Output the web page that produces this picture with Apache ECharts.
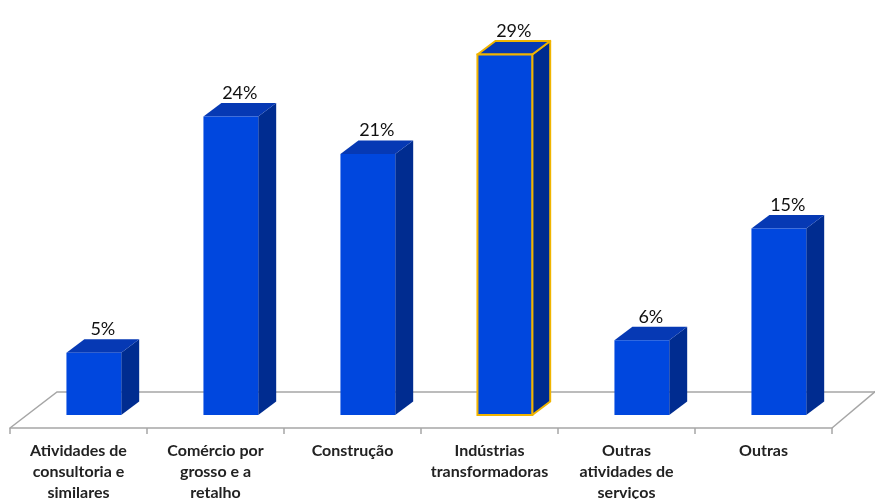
<!DOCTYPE html>
<html>
<head>
<meta charset="utf-8">
<script src="https://cdn.jsdelivr.net/npm/echarts@6/dist/echarts.min.js"></script>
<style>
  html, body { margin: 0; padding: 0; background: #ffffff; overflow: hidden; }
  #chart { width: 875px; height: 499px; }
</style>
</head>
<body>
<div id="chart"></div>
<script>
// Sectors and their share (%)
const categories = [
  'Atividades de consultoria e similares',
  'Comércio por grosso e a retalho',
  'Construção',
  'Indústrias transformadoras',
  'Outras atividades de serviços',
  'Outras'
];
const tickLabels = [
  'Atividades de\nconsultoria e\nsimilares',
  'Comércio por\ngrosso e a\nretalho',
  'Construção',
  'Indústrias\ntransformadoras',
  'Outras\natividades de\nserviços',
  'Outras'
];
const shares = [5, 24, 21, 29, 6, 15];
const highlighted = 'Indústrias transformadoras';

const FRONT = '#0047de';
const TOP = '#0639b4';
const SIDE = '#002c90';
const GOLD = '#f0b400';

const chart = echarts.init(document.getElementById('chart'));

// One extruded box per category, scaled through the axes
function renderBox(params, api) {
  const idx = api.value(0);
  const val = api.value(1);
  const top = api.coord([idx, val]);
  const base = api.coord([idx, 0]);
  const band = api.size([1, 0])[0];
  const x0 = top[0] - band * 0.088;
  const x1 = x0 + band * 0.40;
  const dx = band * 0.131;
  const dy = -13.5;
  const yT = top[1];
  const yB = base[1];
  const hi = categories[idx] === highlighted;
  const stroke = hi ? { stroke: GOLD, lineWidth: 2 } : { stroke: null };
  return {
    type: 'group',
    children: [
      {
        type: 'polygon',
        shape: { points: [[x1, yT], [x1 + dx, yT + dy], [x1 + dx, yB + dy], [x1, yB]] },
        style: Object.assign({ fill: SIDE, lineJoin: 'round' }, stroke)
      },
      {
        type: 'polygon',
        shape: { points: [[x0, yT], [x0 + dx, yT + dy], [x1 + dx, yT + dy], [x1, yT]] },
        style: Object.assign({ fill: TOP, lineJoin: 'round' }, stroke)
      },
      {
        type: 'rect',
        shape: { x: x0, y: yT, width: x1 - x0, height: yB - yT },
        style: Object.assign({ fill: FRONT }, stroke)
      },
      {
        type: 'text',
        style: {
          text: val + '%',
          x: (x0 + x1) / 2 + dx / 2,
          y: yT + dy - 1,
          align: 'center',
          verticalAlign: 'bottom',
          fill: '#111111',
          font: '18px Lato'
        }
      }
    ]
  };
}

chart.setOption({
  animation: false,
  backgroundColor: '#ffffff',
  grid: { left: 10, right: 43, top: 42, bottom: 71, containLabel: false, outerBoundsMode: 'none' },
  // floor outline behind the boxes
  graphic: [
    {
      type: 'polyline',
      z: 0,
      shape: { points: [[10, 428], [57, 392], [875, 392]] },
      style: { stroke: '#a6a6a6', lineWidth: 1.5, fill: null }
    },
    {
      type: 'polyline',
      z: 0,
      shape: { points: [[832, 428], [876, 391]] },
      style: { stroke: '#a6a6a6', lineWidth: 1.5, fill: null }
    }
  ],
  xAxis: {
    type: 'category',
    data: categories,
    boundaryGap: true,
    axisLine: { show: true, onZero: false, lineStyle: { color: '#a6a6a6', width: 1.5 } },
    axisTick: { show: true, length: 6, lineStyle: { color: '#a6a6a6', width: 1.5 } },
    axisLabel: {
      interval: 0,
      margin: 12,
      formatter: (v, i) => tickLabels[i],
      color: '#222222',
      fontFamily: 'Lato',
      fontWeight: 'bold',
      fontSize: 16,
      lineHeight: 21
    }
  },
  // the floor's front edge sits a little below the zero line of the boxes
  yAxis: {
    type: 'value',
    min: -1.05,
    max: 30,
    show: false,
    splitLine: { show: false }
  },
  series: [{
    type: 'custom',
    z: 5,
    renderItem: renderBox,
    data: shares.map((v, i) => [i, v])
  }]
});
</script>
</body>
</html>
